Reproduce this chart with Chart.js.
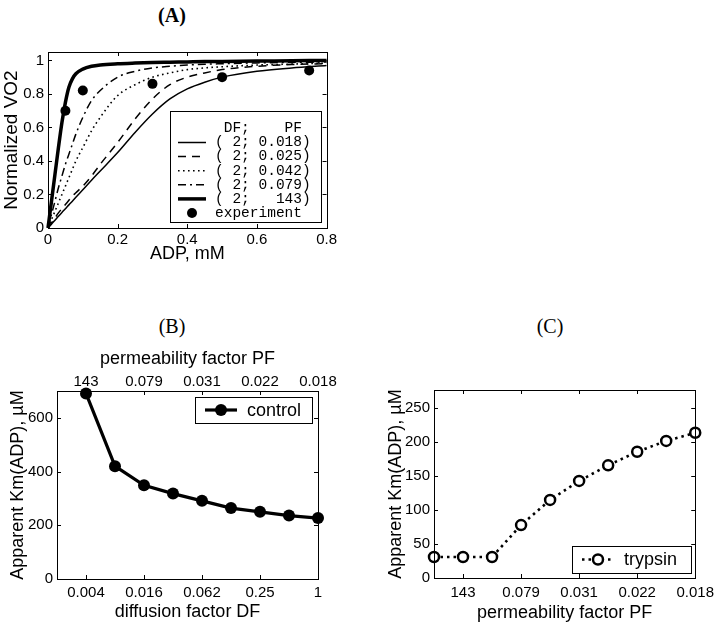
<!DOCTYPE html>
<html>
<head>
<meta charset="utf-8">
<script src="https://cdn.jsdelivr.net/npm/chart.js@4.4.1/dist/chart.umd.min.js"></script>
<style>
  body { margin: 0; background: #fff; width: 720px; height: 625px; position: relative; overflow: hidden; }
  canvas.panel { position: absolute; }
  .tag { position: absolute; font-family: "Liberation Serif", "Times New Roman", serif; font-size: 20px; color: #000; transform: translate(-50%, -50%); }
</style>
</head>
<body>
<div class="tag" style="left:172px;top:15px;font-weight:bold">(A)</div>
<div class="tag" style="left:172px;top:326px">(B)</div>
<div class="tag" style="left:550px;top:326px">(C)</div>
<canvas id="chartA" class="panel" style="left:0;top:30px" width="340" height="240"></canvas>
<canvas id="chartB" class="panel" style="left:0;top:340px" width="340" height="285"></canvas>
<canvas id="chartC" class="panel" style="left:360px;top:340px" width="360" height="285"></canvas>
<script>
// ---- Panel A: normalized VO2 vs ADP (model curves + experiment)
const adp = [0, 0.01, 0.02, 0.03, 0.04, 0.05, 0.06, 0.07, 0.08, 0.1, 0.125, 0.15, 0.2, 0.25, 0.3, 0.35, 0.4, 0.45, 0.5, 0.6, 0.7, 0.8];
const vo2Pf0018 = [0, 0.023, 0.046, 0.07, 0.093, 0.115, 0.138, 0.16, 0.183, 0.228, 0.285, 0.34, 0.45, 0.57, 0.68, 0.77, 0.83, 0.87, 0.90, 0.935, 0.955, 0.97];
const vo2Pf0025 = [0, 0.03, 0.06, 0.09, 0.115, 0.14, 0.165, 0.19, 0.21, 0.25, 0.31, 0.38, 0.51, 0.65, 0.77, 0.855, 0.90, 0.925, 0.945, 0.965, 0.975, 0.98];
const vo2Pf0042 = [0, 0.05, 0.1, 0.15, 0.2, 0.25, 0.3, 0.35, 0.4, 0.48, 0.58, 0.66, 0.79, 0.855, 0.90, 0.925, 0.945, 0.955, 0.962, 0.972, 0.978, 0.984];
const vo2Pf0079 = [0, 0.08, 0.16, 0.24, 0.31, 0.38, 0.44, 0.5, 0.56, 0.66, 0.76, 0.82, 0.90, 0.935, 0.955, 0.965, 0.972, 0.977, 0.98, 0.985, 0.988, 0.99];
const vo2Pf143 = [0, 0.16, 0.32, 0.48, 0.63, 0.75, 0.84, 0.89, 0.92, 0.948, 0.965, 0.973, 0.98, 0.984, 0.987, 0.989, 0.991, 0.993, 0.994, 0.996, 0.998, 1.0];
const expAdp = [0.05, 0.1, 0.3, 0.5, 0.75];
const expVo2 = [0.70, 0.82, 0.86, 0.90, 0.94];
const xTicksA = [0, 0.2, 0.4, 0.6, 0.8];
const yTicksA = [0, 0.2, 0.4, 0.6, 0.8, 1];
const legendHeaderA = ' DF;    PF';

// ---- Panel B: apparent Km vs diffusion factor (control)
const dfLabels = ['0.004', '0.008', '0.016', '0.031', '0.062', '0.125', '0.25', '0.5', '1'];
const pfTopLabels = ['143', '', '0.079', '', '0.031', '', '0.022', '', '0.018'];
const kmControl = [691, 420, 349, 318, 291, 264, 250, 236, 227];
const yTicksB = [0, 200, 400, 600];

// ---- Panel C: apparent Km vs permeability factor (trypsin)
const pfLabelsC = ['', '143', '', '0.079', '', '0.031', '', '0.022', '', '0.018'];
const kmTrypsin = [31, 31, 31, 78, 115, 143, 166, 186, 202, 214];
const yTicksC = [0, 50, 100, 150, 200, 250];

const SANS = '"Liberation Sans", Arial, Helvetica, sans-serif';
const tickFont = { family: SANS, size: 15 };
const titleFont = { family: SANS, size: 18 };
Chart.defaults.color = '#000';
Chart.defaults.animation = false;

function pts(xs, ys) { return xs.map((x, i) => ({ x: x, y: ys[i] })); }
function sizeTo(n) {
  return function(scale) { if (scale.isHorizontal()) scale.height = n; else scale.width = n; };
}
function setTicks(values) {
  return function(scale) { scale.ticks = values.map(v => ({ value: v })); };
}
function labelled(labels) {
  return labels.map((l, i) => l ? i : null).filter(i => i !== null);
}

function strokeSample(ctx, ds, x1, x2, y) {
  ctx.save();
  ctx.strokeStyle = '#000';
  ctx.lineWidth = ds.borderWidth;
  ctx.setLineDash(ds.borderDash || []);
  ctx.beginPath(); ctx.moveTo(x1, y); ctx.lineTo(x2, y); ctx.stroke();
  ctx.restore();
}
function marker(ctx, ds, x, y) {
  ctx.save();
  ctx.beginPath();
  ctx.arc(x, y, ds.pointRadius, 0, 2 * Math.PI);
  ctx.fillStyle = ds.pointBackgroundColor;
  ctx.fill();
  if (ds.pointBorderWidth) { ctx.lineWidth = ds.pointBorderWidth; ctx.strokeStyle = '#000'; ctx.stroke(); }
  ctx.restore();
}
function legendFrame(ctx, x0, y0, w, h) {
  ctx.fillStyle = '#fff';
  ctx.fillRect(x0, y0, w, h);
  ctx.strokeStyle = '#000';
  ctx.lineWidth = 1;
  ctx.strokeRect(x0 + 0.5, y0 + 0.5, w, h);
}

function legendA(chart) {
  const { ctx, chartArea: a } = chart;
  const w = 151, h = 111;
  const x0 = Math.round(a.right) - 6 - w, y0 = Math.round(a.bottom) - 6 - h;
  ctx.save();
  legendFrame(ctx, x0, y0, w, h);
  ctx.font = '14.5px "Liberation Mono", "Courier New", monospace';
  ctx.fillStyle = '#000';
  ctx.textBaseline = 'middle';
  ctx.fillText(legendHeaderA, x0 + 45, y0 + 17);
  chart.data.datasets.forEach((ds, i) => {
    const y = y0 + 31.5 + 14.1 * i;
    if (ds.showLine) strokeSample(ctx, ds, x0 + 8, x0 + 36, y);
    else marker(ctx, ds, x0 + 22, y);
    ctx.fillStyle = '#000';
    ctx.fillText(ds.label, x0 + 45, y);
  });
  ctx.restore();
}

function simpleLegend(box) {
  return function(chart) {
    const { ctx, chartArea: a } = chart;
    const ds = chart.data.datasets[0];
    const x0 = Math.round(a.right) - box.right - box.w;
    const y0 = box.top !== undefined ? Math.round(a.top) + box.top : Math.round(a.bottom) - box.bottom - box.h;
    const y = y0 + box.h / 2;
    ctx.save();
    legendFrame(ctx, x0, y0, box.w, box.h);
    strokeSample(ctx, ds, x0 + 10, x0 + 42, y);
    marker(ctx, ds, x0 + 26, y);
    ctx.font = '18px ' + SANS;
    ctx.fillStyle = '#000';
    ctx.textBaseline = 'middle';
    ctx.fillText(ds.label, x0 + 52, y + 1);
    ctx.restore();
  };
}

// legend painters, looked up by canvas id
const legendPainters = {
  chartA: legendA,
  chartB: simpleLegend({ right: 6, top: 6, w: 117, h: 26 }),
  chartC: simpleLegend({ right: 4, bottom: 5, w: 119, h: 27 })
};

// box around plot area with inward tick marks on all four sides
const boxPlugin = {
  id: 'matlabBox',
  afterDatasetsDraw(chart) {
    const { ctx, chartArea: a, scales } = chart;
    ctx.save();
    ctx.strokeStyle = '#000';
    ctx.lineWidth = 1;
    ctx.strokeRect(Math.round(a.left) + 0.5, Math.round(a.top) + 0.5, Math.round(a.right - a.left), Math.round(a.bottom - a.top));
    const len = 4;
    ctx.beginPath();
    scales.x.ticks.forEach(t => {
      const px = Math.round(scales.x.getPixelForValue(t.value)) + 0.5;
      ctx.moveTo(px, a.bottom); ctx.lineTo(px, a.bottom - len);
      ctx.moveTo(px, a.top); ctx.lineTo(px, a.top + len);
    });
    scales.y.ticks.forEach(t => {
      const py = Math.round(scales.y.getPixelForValue(t.value)) + 0.5;
      ctx.moveTo(a.left, py); ctx.lineTo(a.left + len, py);
      ctx.moveTo(a.right, py); ctx.lineTo(a.right - len, py);
    });
    ctx.stroke();
    ctx.restore();
  },
  afterDraw(chart) {
    const paint = legendPainters[chart.canvas.id];
    if (paint) paint(chart);
  }
};
Chart.register(boxPlugin);

// ---- Chart A
new Chart(document.getElementById('chartA'), {
  type: 'scatter',
  data: {
    datasets: [
      { label: '( 2; 0.018)', data: pts(adp, vo2Pf0018), showLine: true, borderColor: '#000', borderWidth: 1.5, pointRadius: 0, cubicInterpolationMode: 'monotone' },
      { label: '( 2; 0.025)', data: pts(adp, vo2Pf0025), showLine: true, borderColor: '#000', borderWidth: 1.5, borderDash: [8, 6], pointRadius: 0, cubicInterpolationMode: 'monotone' },
      { label: '( 2; 0.042)', data: pts(adp, vo2Pf0042), showLine: true, borderColor: '#000', borderWidth: 1.6, borderDash: [1.6, 3.4], pointRadius: 0, cubicInterpolationMode: 'monotone' },
      { label: '( 2; 0.079)', data: pts(adp, vo2Pf0079), showLine: true, borderColor: '#000', borderWidth: 1.5, borderDash: [8, 4, 2, 4], pointRadius: 0, cubicInterpolationMode: 'monotone' },
      { label: '( 2;   143)', data: pts(adp, vo2Pf143), showLine: true, borderColor: '#000', borderWidth: 3.5, pointRadius: 0, cubicInterpolationMode: 'monotone' },
      { label: 'experiment', data: pts(expAdp, expVo2), showLine: false, pointRadius: 5, pointBackgroundColor: '#000', pointBorderColor: '#000', pointBorderWidth: 0 }
    ]
  },
  options: {
    responsive: false,
    clip: false,
    layout: { padding: { top: 22, right: 11, left: 0, bottom: 0 } },
    plugins: { legend: { display: false }, tooltip: { enabled: false } },
    scales: {
      x: {
        type: 'linear', min: 0, max: 0.8,
        afterBuildTicks: setTicks(xTicksA), afterFit: sizeTo(42),
        grid: { display: false, drawTicks: false }, border: { display: false },
        ticks: { font: tickFont, padding: 3, maxRotation: 0, autoSkip: false, callback: v => String(+v.toFixed(2)) },
        title: { display: true, text: 'ADP, mM', font: titleFont, padding: { top: 0, bottom: 5 } }
      },
      y: {
        type: 'linear', min: 0, max: 1.05,
        afterBuildTicks: setTicks(yTicksA), afterFit: sizeTo(48),
        grid: { display: false, drawTicks: false }, border: { display: false },
        ticks: { font: tickFont, padding: 4, autoSkip: false, callback: v => String(+v.toFixed(2)) },
        title: { display: true, text: 'Normalized VO2', font: { family: SANS, size: 19 }, padding: { top: 0, bottom: 0 } }
      }
    }
  }
});

// ---- Chart B
new Chart(document.getElementById('chartB'), {
  type: 'scatter',
  data: {
    datasets: [
      { label: 'control', data: kmControl.map((v, i) => ({ x: i, y: v })), showLine: true, borderColor: '#000', borderWidth: 3.2,
        pointRadius: 6, pointBackgroundColor: '#000', pointBorderColor: '#000', pointBorderWidth: 0 }
    ]
  },
  options: {
    responsive: false,
    clip: false,
    layout: { padding: { top: 0, right: 22, left: 0, bottom: 0 } },
    plugins: { legend: { display: false }, tooltip: { enabled: false } },
    scales: {
      x: {
        type: 'linear', position: 'bottom', min: -1, max: dfLabels.length - 1,
        afterBuildTicks: setTicks(labelled(pfTopLabels)), afterFit: sizeTo(46),
        grid: { display: false, drawTicks: false }, border: { display: false },
        ticks: { font: tickFont, padding: 5, maxRotation: 0, autoSkip: false, callback: v => dfLabels[v] },
        title: { display: true, text: 'diffusion factor DF', font: titleFont, padding: { top: 0, bottom: 2 } }
      },
      x2: {
        type: 'linear', position: 'top', min: -1, max: dfLabels.length - 1,
        afterBuildTicks: setTicks(labelled(pfTopLabels)), afterFit: sizeTo(51),
        grid: { display: false, drawTicks: false }, border: { display: false },
        ticks: { font: tickFont, padding: 0, maxRotation: 0, autoSkip: false, callback: v => pfTopLabels[v] },
        title: { display: true, text: 'permeability factor PF', font: titleFont, padding: { top: 8, bottom: 0 } }
      },
      y: {
        type: 'linear', min: 0, max: 700,
        afterBuildTicks: setTicks(yTicksB), afterFit: sizeTo(57),
        grid: { display: false, drawTicks: false }, border: { display: false },
        ticks: { font: tickFont, padding: 4, autoSkip: false },
        title: { display: true, text: 'Apparent Km(ADP), \u00b5M', font: titleFont, padding: { top: 7, bottom: 0 } }
      }
    }
  }
});

// ---- Chart C
new Chart(document.getElementById('chartC'), {
  type: 'scatter',
  data: {
    datasets: [
      { label: 'trypsin', data: kmTrypsin.map((v, i) => ({ x: i, y: v })), showLine: true, borderColor: '#000', borderWidth: 2.6, borderDash: [2.5, 4],
        pointRadius: 5, pointBackgroundColor: '#fff', pointBorderColor: '#000', pointBorderWidth: 2.5 }
    ]
  },
  options: {
    responsive: false,
    clip: false,
    layout: { padding: { top: 50, right: 24, left: 0, bottom: 0 } },
    plugins: { legend: { display: false }, tooltip: { enabled: false } },
    scales: {
      x: {
        type: 'linear', min: 0, max: pfLabelsC.length - 1,
        afterBuildTicks: setTicks(labelled(pfLabelsC)), afterFit: sizeTo(47),
        grid: { display: false, drawTicks: false }, border: { display: false },
        ticks: { font: tickFont, padding: 6, maxRotation: 0, autoSkip: false, callback: v => pfLabelsC[v] },
        title: { display: true, text: 'permeability factor PF', font: titleFont, padding: { top: 0, bottom: 1 } }
      },
      y: {
        type: 'linear', min: 0, max: 277,
        afterBuildTicks: setTicks(yTicksC), afterFit: sizeTo(74),
        grid: { display: false, drawTicks: false }, border: { display: false },
        ticks: { font: tickFont, padding: 4, autoSkip: false },
        title: { display: true, text: 'Apparent Km(ADP), \u00b5M', font: titleFont, padding: { top: 25, bottom: 0 } }
      }
    }
  }
});
</script>
</body>
</html>
